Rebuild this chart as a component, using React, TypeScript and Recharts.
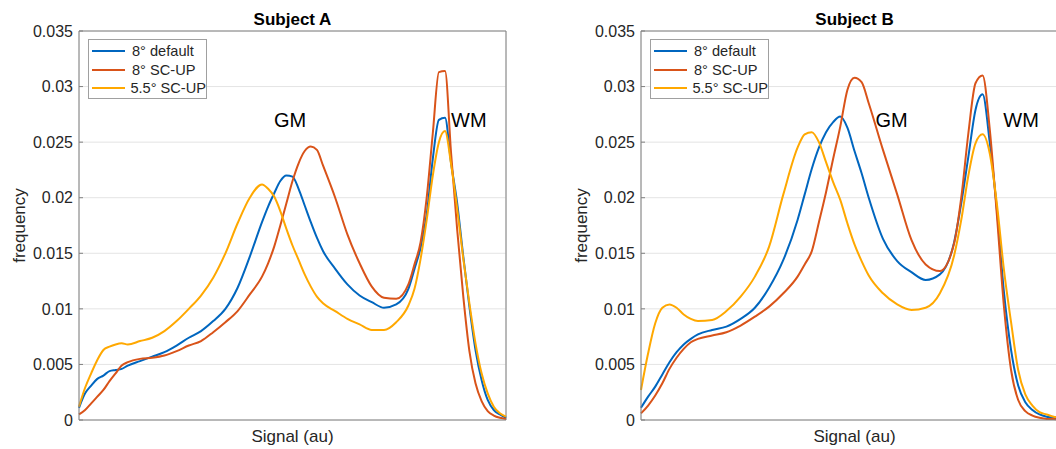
import React from 'react';
import {
  LineChart,
  Line,
  XAxis,
  YAxis,
  CartesianGrid,
  Legend,
  ReferenceLine,
  ReferenceDot,
  Label
} from 'recharts';

const FONT = '"Liberation Sans", Arial, Helvetica, sans-serif';
const BLUE = '#0066BF';
const RED = '#D95319';
const YELLOW = '#FFA800';
const AXIS = '#808080';

const seriesNames = ['8° default', '8° SC-UP', '5.5° SC-UP'];
const seriesColors = [BLUE, RED, YELLOW];
const yTicks = [0, 0.005, 0.01, 0.015, 0.02, 0.025, 0.03, 0.035];

// Subject A (signal in arbitrary grid units, 0..7)
const signalA = [
  0, 0.1, 0.2, 0.3, 0.4, 0.5, 0.6, 0.7, 0.8, 1.0, 1.2, 1.4, 1.6, 1.8, 2.0, 2.2, 2.4, 2.6, 2.8, 3.0,
  3.1, 3.2, 3.3, 3.4, 3.5, 3.6, 3.7, 3.8, 3.9, 4.0, 4.2, 4.4, 4.6, 4.8, 5.0, 5.2, 5.4, 5.5, 5.6, 5.7,
  5.8, 5.9, 6.0, 6.1, 6.2, 6.3, 6.4, 6.5, 6.6, 6.7, 6.8, 6.9, 7.0
];
const defaultA = [
  0.0011, 0.0024, 0.0031, 0.0037, 0.004, 0.0044, 0.0045, 0.0046, 0.0049, 0.0053, 0.0057, 0.0061, 0.0067, 0.0074, 0.008, 0.0089, 0.01, 0.0119, 0.0147, 0.0178,
  0.0192, 0.0204, 0.0215, 0.022, 0.0219, 0.0208, 0.0193, 0.0178, 0.0164, 0.0152, 0.0136, 0.0122, 0.0112, 0.0106, 0.0101, 0.0104, 0.0118, 0.0136, 0.0155, 0.0185,
  0.0235, 0.027, 0.0272, 0.0231, 0.0195, 0.0147, 0.0102, 0.0063, 0.0036, 0.0018, 0.0009, 0.0005, 0.0002
];
const scUpA = [
  0.0005, 0.0009, 0.0015, 0.0021, 0.0027, 0.0035, 0.0042, 0.0049, 0.0052, 0.0055, 0.0056, 0.0058, 0.0062, 0.0067, 0.0071, 0.0079, 0.0088, 0.0098, 0.0113, 0.0129,
  0.0141, 0.0156, 0.0175, 0.0195, 0.0215, 0.0231, 0.0242, 0.0246, 0.0243, 0.0229, 0.02, 0.0167, 0.0141, 0.012, 0.011, 0.0109, 0.0122, 0.014, 0.016, 0.02,
  0.0258, 0.0313, 0.0314, 0.024, 0.0171, 0.0111, 0.0062, 0.0033, 0.0017, 0.0008, 0.0004, 0.0002, 0.0001
];
const scUp55A = [
  0.0012, 0.0029, 0.0042, 0.0054, 0.0063, 0.0066, 0.0068, 0.0069, 0.0068, 0.0071, 0.0074, 0.008, 0.0089, 0.01, 0.0112, 0.0128, 0.015, 0.0177, 0.02, 0.0212,
  0.0208, 0.0201, 0.0188, 0.0172, 0.0157, 0.0144, 0.0131, 0.012, 0.0111, 0.0105, 0.0098, 0.0091, 0.0086, 0.0081, 0.0081, 0.0088, 0.0103, 0.0118, 0.0145, 0.018,
  0.022, 0.025, 0.026, 0.023, 0.019, 0.0145, 0.0105, 0.0069, 0.0042, 0.0024, 0.0012, 0.0006, 0.0003
];

// Subject B (0..6, right edge runs past the picture)
const signalB = [
  0, 0.1, 0.2, 0.3, 0.4, 0.5, 0.6, 0.7, 0.8, 1.0, 1.2, 1.4, 1.6, 1.8, 2.0, 2.2,
  2.3, 2.4, 2.5, 2.6, 2.7, 2.8, 2.9, 3.0, 3.1, 3.2, 3.4, 3.6, 3.8, 4.0, 4.2, 4.4,
  4.5, 4.6, 4.7, 4.8, 4.9, 5.0, 5.1, 5.2, 5.3, 5.4, 5.5, 5.6, 5.7, 5.8, 5.9, 6.0
];
const defaultB = [
  0.0011, 0.0021, 0.003, 0.0041, 0.0052, 0.0061, 0.0068, 0.0073, 0.0077, 0.0081, 0.0084, 0.0091, 0.0101, 0.0119, 0.0144, 0.018,
  0.0203, 0.0226, 0.0245, 0.0259, 0.0268, 0.0273, 0.0263, 0.0242, 0.0222, 0.02, 0.0163, 0.0143, 0.0133, 0.0126, 0.0131, 0.016,
  0.0195, 0.0237, 0.0279, 0.0293, 0.025, 0.019, 0.0115, 0.0063, 0.0031, 0.0016, 0.0009, 0.0005, 0.0003, 0.0002, 0.0001, 0.0001
];
const scUpB = [
  0.0006, 0.0013, 0.0022, 0.0033, 0.0046, 0.0056, 0.0064, 0.007, 0.0073, 0.0076, 0.0079, 0.0085, 0.0093, 0.0102, 0.0114, 0.0129,
  0.014, 0.0152, 0.0178, 0.0205, 0.0235, 0.0264, 0.0297, 0.0308, 0.0304, 0.0285, 0.0243, 0.0203, 0.0162, 0.014, 0.0134, 0.0159,
  0.02, 0.0258, 0.0303, 0.031, 0.0262, 0.0185, 0.0102, 0.0045, 0.0018, 0.0008, 0.0004, 0.0002, 0.0001, 0.0001, 0, 0
];
const scUp55B = [
  0.0027, 0.006, 0.0087, 0.0101, 0.0104, 0.0101, 0.0095, 0.0091, 0.0089, 0.009, 0.0098, 0.0111, 0.0129, 0.0156, 0.0203, 0.0245,
  0.0257, 0.0259, 0.025, 0.0232, 0.0214, 0.0198, 0.0177, 0.0158, 0.0143, 0.013, 0.0114, 0.0104, 0.0099, 0.0101, 0.0114, 0.0148,
  0.018, 0.022, 0.0249, 0.0257, 0.024, 0.0195, 0.0135, 0.0088, 0.0045, 0.0023, 0.0013, 0.0007, 0.0005, 0.0003, 0.0002, 0.0001
];

const notesA = [
  { text: 'GM', x: 3.46, y: 0.027 },
  { text: 'WM', x: 6.39, y: 0.027 }
];
const notesB = [
  { text: 'GM', x: 3.52, y: 0.027 },
  { text: 'WM', x: 5.34, y: 0.027 }
];

const buildRows = (x: number[], a: number[], b: number[], c: number[]) =>
  x.map((v, i) => ({ x: v, s0: a[i], s1: b[i], s2: c[i] }));

// MATLAB-like legend box, entries in plotting order
const LegendBox = () => (
  <div
    style={{
      width: 119,
      height: 60,
      boxSizing: 'border-box',
      border: '1px solid #a0a0a0',
      background: '#fff',
      paddingTop: 2,
      fontFamily: FONT,
      fontSize: 14.6,
      color: '#262626'
    }}
  >
    {seriesNames.map((name, i) => (
      <div key={name} style={{ height: 18.5, display: 'flex', alignItems: 'center' }}>
        <svg width={40} height={6} style={{ marginLeft: 3 }}>
          <line x1={0} y1={3} x2={33} y2={3} stroke={seriesColors[i]} strokeWidth={2} />
        </svg>
        <span style={{ whiteSpace: 'nowrap' }}>{name}</span>
      </div>
    ))}
  </div>
);

interface PanelProps {
  title: string;
  rows: any[];
  xMax: number;
  left: number;
  marginLeft: number;
  marginRight: number;
  legendLeft: number;
  notes: { text: string; x: number; y: number }[];
}

const Panel: React.FC<PanelProps> = ({ title, rows, xMax, left, marginLeft, marginRight, legendLeft, notes }) => {
  const xTicks = Array.from({ length: xMax + 1 }, (_, i) => i);
  const plotLeft = marginLeft + 60;
  const plotWidth = 530 - plotLeft - marginRight;
  return (
    <div style={{ position: 'absolute', left, top: 0, width: 530, height: 449 }}>
      <div
        style={{
          position: 'absolute',
          left: plotLeft,
          width: plotWidth,
          top: 11,
          textAlign: 'center',
          fontFamily: FONT,
          fontWeight: 'bold',
          fontSize: 17,
          lineHeight: '17px',
          color: '#000'
        }}
      >
        {title}
      </div>
      <LineChart
        width={530}
        height={449}
        data={rows}
        margin={{ top: 31, right: marginRight, bottom: 0, left: marginLeft }}
      >
        <CartesianGrid stroke="#e4e4e4" />
        <XAxis
          dataKey="x"
          type="number"
          domain={[0, xMax]}
          ticks={xTicks}
          tick={false}
          tickLine={{ stroke: AXIS }}
          tickSize={-4}
          height={29}
          axisLine={{ stroke: AXIS }}
        >
          <Label
            value="Signal (au)"
            position="insideBottom"
            offset={7}
            style={{ fontFamily: FONT, fontSize: 17, fill: '#262626' }}
          />
        </XAxis>
        <YAxis
          type="number"
          domain={[0, 0.035]}
          ticks={yTicks}
          width={60}
          tickLine={{ stroke: AXIS }}
          tickSize={-4}
          tickMargin={10}
          axisLine={{ stroke: AXIS }}
          tick={{ fontFamily: FONT, fontSize: 16, fill: '#262626' }}
        >
          <Label
            content={({ viewBox }: any) => {
              const cx = viewBox.x + viewBox.width - 54;
              const cy = viewBox.y + viewBox.height / 2;
              return (
                <text
                  x={cx}
                  y={cy}
                  transform={`rotate(-90 ${cx} ${cy})`}
                  textAnchor="middle"
                  fontFamily={FONT}
                  fontSize={17}
                  fill="#262626"
                >
                  frequency
                </text>
              );
            }}
          />
        </YAxis>
        <ReferenceLine y={0.035} stroke={AXIS} />
        <ReferenceLine x={xMax} stroke={AXIS} />
        {['s0', 's1', 's2'].map((k, i) => (
          <Line
            key={k}
            name={seriesNames[i]}
            dataKey={k}
            type="monotone"
            stroke={seriesColors[i]}
            strokeWidth={2}
            dot={false}
            activeDot={false}
            isAnimationActive={false}
          />
        ))}
        {notes.map((n) => (
          <ReferenceDot
            key={n.text}
            x={n.x}
            y={n.y}
            r={0}
            fill="none"
            stroke="none"
            label={{ value: n.text, position: 'center', fontSize: 20, fill: '#000', fontFamily: FONT }}
          />
        ))}
        <Legend
          layout="vertical"
          align="center"
          verticalAlign="middle"
          content={<LegendBox />}
          wrapperStyle={{ left: legendLeft, top: 39, width: 119 }}
        />
      </LineChart>
    </div>
  );
};

export default function App() {
  const rowsA = buildRows(signalA, defaultA, scUpA, scUp55A);
  const rowsB = buildRows(signalB, defaultB, scUpB, scUp55B);
  return (
    <div
      style={{
        position: 'absolute',
        left: 0,
        top: 0,
        width: 1056,
        height: 449,
        overflow: 'hidden',
        background: '#fff'
      }}
    >
      <Panel title="Subject A" rows={rowsA} xMax={7} left={0} marginLeft={19} marginRight={24} legendLeft={88} notes={notesA} />
      <Panel title="Subject B" rows={rowsB} xMax={6} left={560} marginLeft={21} marginRight={22} legendLeft={90} notes={notesB} />
    </div>
  );
}
